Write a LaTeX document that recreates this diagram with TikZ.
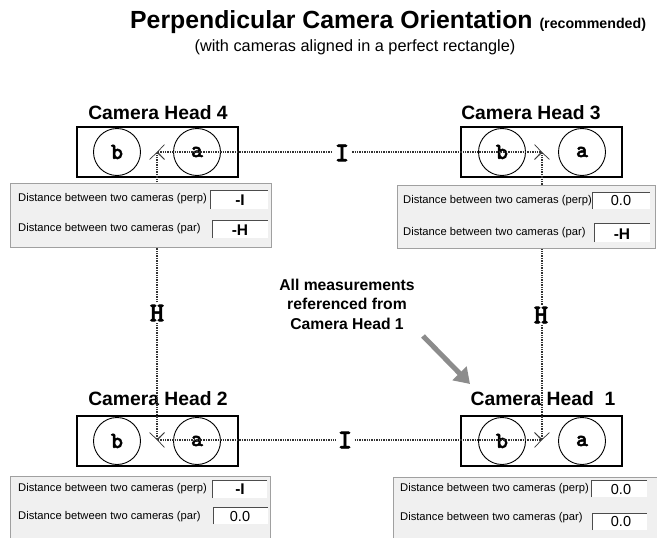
\documentclass[tikz,border=0pt]{standalone}
\usepackage{fontspec}
\setmainfont{Liberation Sans}
\newfontfamily\slabfont{lmmonolt10-bold.otf}[FakeBold=2.2]
\usetikzlibrary{arrows.meta}

\definecolor{panelfill}{HTML}{F0F0F0}
\definecolor{panelline}{HTML}{A0A0A0}
\definecolor{pointer}{HTML}{8C8C8C}

\tikzset{
  camhead/.style={draw=black, line width=1.1pt, minimum width=161pt, minimum height=50pt, inner sep=0pt},
  lens/.style={circle, draw=black, line width=0.9pt, minimum size=47pt, inner sep=0pt,
    font=\slabfont\fontsize{23}{23}\selectfont},
  headlabel/.style={anchor=base, inner sep=0pt, font=\bfseries\fontsize{19.3}{19.3}\selectfont},
  barb/.tip={Straight Barb[length=7pt,width=15pt,line width=0.7pt]},
  dimline/.style={densely dotted, line width=1.4pt, draw=black!80, barb-barb},
  dimlabel/.style={fill=white, inner sep=1.5pt, font=\slabfont\fontsize{27}{27}\selectfont},
  panel/.style={draw=panelline, fill=panelfill, line width=0.8pt},
  field/.style={fill=white, draw=none},
  fieldedge/.style={draw=black!70, line width=0.9pt},
  caption/.style={anchor=west, inner sep=0pt, font=\fontsize{11.2}{11.2}\selectfont},
  value/.style={inner sep=0pt, font=\fontsize{14.5}{14.5}\selectfont},
  boldvalue/.style={inner sep=0pt, font=\bfseries\fontsize{15.5}{15.5}\selectfont},
}

\begin{document}
\begin{tikzpicture}[x=1pt, y=-1pt]
\useasboundingbox (0,0) rectangle (657,538);
\fill[white] (0,0) rectangle (657,538);

% ---- titles ----
\node[anchor=base west, inner sep=0pt] (title) at (130,28)
  {\bfseries\fontsize{24.8}{24.8}\selectfont Perpendicular Camera Orientation
   \fontsize{14.2}{14.2}\selectfont(recommended)};
\node[anchor=base, inner sep=0pt, font=\fontsize{16.3}{16.3}\selectfont] (subtitle) at (355,52)
  {(with cameras aligned in a perfect rectangle)};

% ---- camera heads ----
\node[camhead] (cam4) at (157.5,152) {};
\node[camhead] (cam3) at (541.5,152) {};
\node[camhead] (cam2) at (157.5,441) {};
\node[camhead] (cam1) at (541.5,441) {};

\foreach \c/\xb/\xa/\y in {4/117/197/152, 3/502/582/152, 2/117/197/441, 1/502/582/441}{
  \node[lens] (cam\c b) at (\xb,\y) {b};
  \node[lens] (cam\c a) at (\xa,\y) {a};
}

\node[headlabel] (lab4) at (158,119) {Camera Head 4};
\node[headlabel] (lab3) at (531,119) {Camera Head 3};
\node[headlabel] (lab2) at (158,405) {Camera Head 2};
\node[headlabel] (lab1) at (543,405) {Camera Head\ \ 1};

% reference points of each head
\coordinate (v4) at (157,152);
\coordinate (v3) at (542,152);
\coordinate (v2) at (157,440);
\coordinate (v1) at (542,440);

% ---- dimension lines ----
\draw[dimline] (v4) -- (v3);
\draw[dimline] (v2) -- (v1);
\draw[dimline] (v2) -- (v4);
\draw[dimline] (v1) -- (v3);

% ---- setting panels ----
% top left
\draw[panel] (10,183) rectangle (271,247);
\fill[field] (210,190) rectangle (268,209);
\draw[fieldedge] (210,209) -- (210,190) -- (268,190);
\fill[field] (212,220) rectangle (268,238);
\draw[fieldedge] (212,238) -- (212,220) -- (268,220);
\node[caption] (p4a) at (18,199) {Distance between two cameras (perp)};
\node[caption] (p4b) at (18,229) {Distance between two cameras (par)};
\node[boldvalue] (v4a) at (240,200) {-I};
\node[boldvalue] (v4b) at (240,230) {-H};

% top right
\draw[panel] (397,185) rectangle (655,248);
\fill[field] (592,192) rectangle (650,209);
\draw[fieldedge] (592,209) -- (592,192) -- (650,192);
\fill[field] (594,223) rectangle (650,242);
\draw[fieldedge] (594,242) -- (594,223) -- (650,223);
\node[caption] (p3a) at (403,201) {Distance between two cameras (perp)};
\node[caption] (p3b) at (403,233) {Distance between two cameras (par)};
\node[value] (v3a) at (621,201) {0.0};
\node[boldvalue] (v3b) at (622,234) {-H};

% bottom left
\draw[panel] (10,476) rectangle (270,539);
\fill[field] (212,480) rectangle (267,498);
\draw[fieldedge] (212,498) -- (212,480) -- (267,480);
\fill[field] (213,507) rectangle (268,524);
\draw[fieldedge] (213,524) -- (213,507) -- (268,507);
\node[caption] (p2a) at (18,489) {Distance between two cameras (perp)};
\node[caption] (p2b) at (18,517) {Distance between two cameras (par)};
\node[boldvalue] (v2a) at (240,489) {-I};
\node[value] (v2b) at (240,517) {0.0};

% bottom right
\draw[panel] (393,477) rectangle (657,538);
\fill[field] (591,480) rectangle (647,497);
\draw[fieldedge] (591,497) -- (591,480) -- (647,480);
\fill[field] (592,513) rectangle (647,530);
\draw[fieldedge] (592,530) -- (592,513) -- (647,513);
\node[caption] (p1a) at (400,489) {Distance between two cameras (perp)};
\node[caption] (p1b) at (400,518) {Distance between two cameras (par)};
\node[value] (v1a) at (621,490) {0.0};
\node[value] (v1b) at (621,522) {0.0};

% ---- dimension labels ----
\node[dimlabel] (dimI1) at (342,153) {I};
\node[dimlabel] (dimI2) at (345,440) {I};
\node[dimlabel] (dimH1) at (157,313) {H};
\node[dimlabel] (dimH2) at (541,315) {H};

% ---- reference note ----
\node[align=center, inner sep=0pt, font=\bfseries\fontsize{15.7}{19.5}\selectfont] (note) at (347,304)
  {All measurements\\referenced from\\Camera Head 1};
\coordinate (ptrstart) at (423,336);
\coordinate (ptrend) at (470,384);
\draw[line width=5pt, draw=pointer, -{Triangle[length=15pt,width=19pt]}] (ptrstart) -- (ptrend);
\end{tikzpicture}
\end{document}
